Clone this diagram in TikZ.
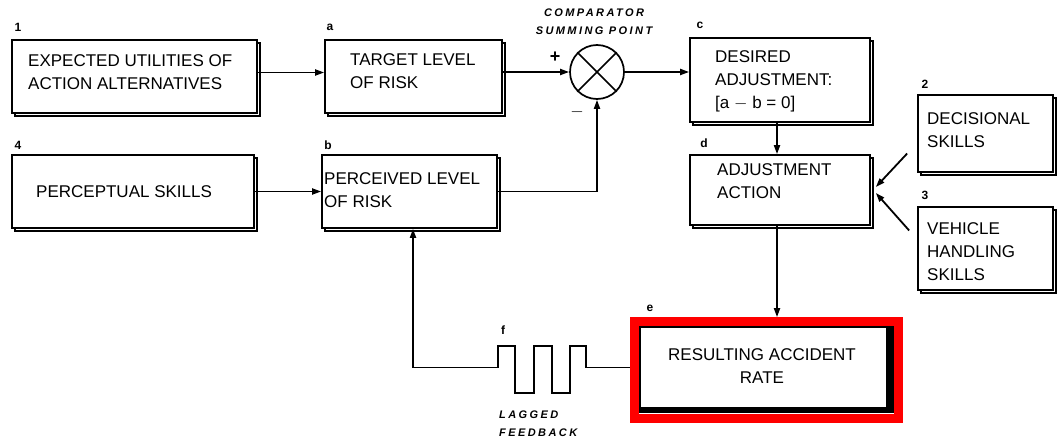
\documentclass[tikz,border=0pt]{standalone}
\usepackage{fontspec}
\setmainfont{Liberation Sans}
\newfontfamily\capfont[LetterSpace=22]{Liberation Sans}
\usetikzlibrary{arrows.meta,shadows,calc}
\begin{document}
\begin{tikzpicture}[x=1pt,y=-1pt,
  box/.style={draw, line width=1.7pt, fill=white, inner sep=0pt,
    drop shadow={shadow xshift=3pt, shadow yshift=-3pt, fill=white, draw=black, line width=1.3pt, opacity=1}},
  ebox/.style={draw, line width=1.7pt, fill=white, inner sep=0pt},
  txt/.style={anchor=north west, inner sep=0pt, align=left, font=\fontsize{17}{23}\selectfont},
  lab/.style={inner sep=0pt, font=\fontsize{12}{13}\selectfont\bfseries},
  captxt/.style={inner sep=0pt, font=\fontsize{11}{18}\selectfont\capfont\bfseries\itshape},
  arr/.style={-{Triangle[length=9pt,width=6pt]}, line width=1.8pt},
  conn/.style={line width=1.8pt}
]
\useasboundingbox (0,0) rectangle (1059,441);

% boxes
\node[box, minimum width=245pt, minimum height=73pt] (n1) at (134.5,76.5) {};
\node[box, minimum width=177pt, minimum height=73pt] (a) at (413.5,76.5) {};
\node[box, minimum width=180pt, minimum height=84pt] (c) at (780,80) {};
\node[box, minimum width=180pt, minimum height=70pt] (d) at (780,190) {};
\node[box, minimum width=135pt, minimum height=77pt] (n2) at (985.5,133.5) {};
\node[box, minimum width=135pt, minimum height=83pt] (n3) at (985.5,248.5) {};
\node[box, minimum width=242pt, minimum height=73pt] (n4) at (133,191.5) {};
\node[box, minimum width=175pt, minimum height=73pt] (b) at (409.5,191.5) {};
% heavy shadow of box e
\fill[black] (638,325) rectangle (894,413);
\node[ebox, minimum width=247pt, minimum height=81pt] (e) at (763.5,367.5) {};
\node[draw, circle, line width=1.7pt, minimum size=54pt, inner sep=0pt] (comp) at (597,72) {};
\draw[line width=1.5pt] (comp.north west) -- (comp.south east) (comp.north east) -- (comp.south west);

% box texts
\node[txt] (t1) at (28,54) {EXPECTED UTILITIES OF\\ACTION ALTERNATIVES};
\node[txt] (ta) at (350,53) {TARGET LEVEL\\OF RISK};
\node[txt] (tc) at (715,50) {DESIRED\\ADJUSTMENT:\\{[}a $-$ b = 0{]}};
\node[txt] (td) at (717,163) {ADJUSTMENT\\ACTION};
\node[txt] (t2) at (927,112) {DECISIONAL\\SKILLS};
\node[txt] (t3) at (927,222) {VEHICLE\\HANDLING\\SKILLS};
\node[txt] (t4) at (36,185) {PERCEPTUAL SKILLS};
\node[txt] (tb) at (324,172) {PERCEIVED LEVEL\\OF RISK};
\node[txt, anchor=north, align=center] (te) at (762,348) {RESULTING ACCIDENT\\RATE};

% small labels
\node[lab] (l1) at (18,27) {1};
\node[lab] (la) at (330,27) {a};
\node[lab] (lc) at (700,25) {c};
\node[lab] (ld) at (704,143) {d};
\node[lab] (l2) at (925,84) {2};
\node[lab] (l3) at (925,195) {3};
\node[lab] (l4) at (18,145) {4};
\node[lab] (lb) at (328,145) {b};
\node[lab] (le) at (650,308) {e};
\node[lab] (lf) at (503,330) {f};

\node[captxt, align=center, anchor=north] (ct) at (594,9) {COMPARATOR\\SUMMING POINT};
\node[captxt, align=left, anchor=north west] (lg) at (499,411) {LAGGED\\FEEDBACK};
\node[inner sep=0pt, font=\fontsize{18}{18}\selectfont\bfseries] (plus) at (555,57) {+};
\node[inner sep=0pt, font=\fontsize{16}{16}\selectfont\bfseries] (minus) at (577,112) {$-$};

% connectors
\draw[arr] ([yshift=4pt]n1.east) -- ([yshift=4pt]a.west);
\draw[arr] ([yshift=4.5pt]a.east) -- (comp.west);
\draw[arr] (comp.east) -- (comp.east -| c.west);
\draw[arr] ([xshift=-3pt]c.south) -- ([xshift=-3pt]d.north);
\draw[arr] (n4.east) -- (b.west);
\draw[arr] (b.east) -| (comp.south);
\draw[arr] ([xshift=-10pt,yshift=-20pt]n2.west) -- ([xshift=5pt,yshift=3pt]d.east);
\draw[arr] ([xshift=-8pt,yshift=18pt]n3.west) -- ([xshift=5pt,yshift=-3pt]d.east);
\draw[conn] (e.west) -- (586,367.5) -- (586,346) -- (570,346) -- (570,393) -- (552,393)
  -- (552,346) -- (534,346) -- (534,393) -- (515,393) -- (515,346) -- (498,346)
  -- (498,367.5) -- (413,367.5) coordinate (fb);
\draw[arr] (fb) -- (fb |- b.south);
\draw[red, line width=9pt] ($(e.north west)+(-4.5,-4.5)$) rectangle ($(e.south east)+(10.5,9.5)$);
\draw[arr, shorten >=9pt] ([xshift=-3pt]d.south) -- ([xshift=-3pt]d.south |- e.north);
\end{tikzpicture}
\end{document}
